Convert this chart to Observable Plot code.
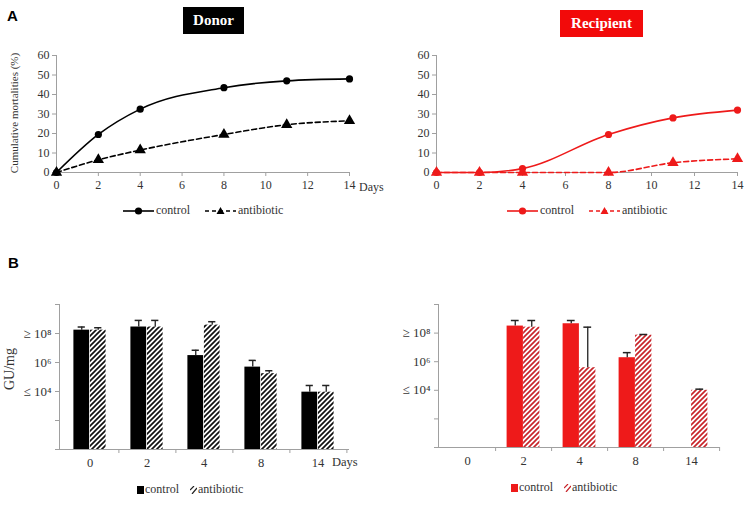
<!DOCTYPE html>
<html lang="en">
<head>
<meta charset="UTF-8">
<title>Donor / Recipient</title>
<script src="https://cdn.jsdelivr.net/npm/d3@7"></script>
<script src="https://cdn.jsdelivr.net/npm/@observablehq/plot@0.6"></script>
<style>
  body { margin: 0; background: #fff; }
  #fig { position: relative; width: 751px; height: 507px; overflow: hidden; font-family: "Liberation Serif", "Times New Roman", "DejaVu Serif", serif; color: #333; }
  #fig svg text { font-family: "Liberation Serif", "Times New Roman", "DejaVu Serif", serif; }
  .abs { position: absolute; }
  .panel { font-family: "Liberation Sans", Arial, sans-serif; font-weight: bold; font-size: 15px; color: #000; }
  .tag { font-weight: bold; font-size: 15px; color: #fff; text-align: center; line-height: 27px; height: 27px; }
  .ylab { transform-origin: center; transform: translate(-50%, -50%) rotate(-90deg); white-space: nowrap; }
  .leg { display: flex; align-items: center; font-size: 12px; white-space: nowrap; }
  .leg svg { display: block; }
</style>
</head>
<body>
<div id="fig">
  <div class="abs panel" style="left:7px;top:7px">A</div>
  <div class="abs panel" style="left:8px;top:254px">B</div>
  <div class="abs tag" style="left:183px;top:7px;width:61px;background:#000">Donor</div>
  <div class="abs tag" style="left:560px;top:10px;width:83px;background:#f20a0a">Recipient</div>
  <div class="abs ylab" style="left:14px;top:113px;font-size:11px">Cumulative mortalities (%)</div>
  <div class="abs ylab" style="left:10px;top:369px;font-size:14px">GU/mg</div>
  <div class="abs" style="left:359px;top:180px;font-size:12px">Days</div>
  <div class="abs" style="left:332px;top:455px;font-size:12.5px">Days</div>
  <div id="g1" class="abs" style="left:0;top:40px"></div>
  <div id="g2" class="abs" style="left:375px;top:40px"></div>
  <div id="g3" class="abs" style="left:0;top:291px"></div>
  <div id="g4" class="abs" style="left:375px;top:291px"></div>
  <div id="leg1" class="abs leg" style="left:123px;top:203px"></div>
  <div id="leg2" class="abs leg" style="left:507px;top:203px"></div>
  <div id="leg3" class="abs leg" style="left:137px;top:482px"></div>
  <div id="leg4" class="abs leg" style="left:511px;top:480px"></div>
</div>
<script>
// --- A: cumulative mortalities (%)
const days = [0, 2, 4, 8, 11, 14];
const donorControl = [0, 19.5, 32.5, 43.5, 47, 48];
const donorAntibiotic = [0, 6.5, 11.5, 19.5, 24.5, 26.5];
const recipControl = [0, 0, 2, 19.5, 28, 32];
const recipAntibiotic = [0, 0, 0, 0, 5, 7];
const dayTicks = [0, 2, 4, 6, 8, 10, 12, 14];
const pctTicks = [0, 10, 20, 30, 40, 50, 60];

// --- B: viral load (GU/mg), null = no bar
const sampleDays = ["0", "2", "4", "8", "14"];
const dControl = [1.7e8, 2.8e8, 3e6, 4.8e5, 9e3];
const dControlErr = [2.8e8, 8e8, 7e6, 1.4e6, 2.6e4];
const dAntibiotic = [1.7e8, 2.8e8, 3.8e8, 1.7e5, 9e3];
const dAntibioticErr = [2.5e8, 8e8, 6.5e8, 2.7e5, 2.6e4];
const rControl = [null, 3.1e8, 4.5e8, 1.9e6, null];
const rControlErr = [null, 7.6e8, 7.6e8, 4.3e6, null];
const rAntibiotic = [null, 2.6e8, 3.8e5, 7.2e7, 1e4];
const rAntibioticErr = [null, 7.6e8, 2.6e8, 8e7, 1.2e4];
const guTicks = [1, 1e2, 1e4, 1e6, 1e8, 1e10];
const guTickLabels = ["", "", "\u2264 10\u2074", "10\u2076", "\u2265 10\u2078", ""];

const RED = "#ee1a1a";
const AXIS = "#a0a0a0";
const SERIF = "'Liberation Serif', 'Times New Roman', 'DejaVu Serif', serif";

function mortality(ctrl, abx, color, m) {
  const c = days.map((d, i) => ({day: d, v: ctrl[i]}));
  const a = days.map((d, i) => ({day: d, v: abx[i]}));
  return Plot.plot({
    width: m.width, height: 160,
    marginLeft: m.left, marginRight: m.right, marginTop: 15, marginBottom: 28,
    style: {fontFamily: SERIF, fontSize: "12px", color: "#333", background: "transparent"},
    x: {domain: [0, 14]},
    y: {domain: [0, 60]},
    marks: [
      Plot.axisX({ticks: dayTicks, tickSize: 4, tickPadding: 4, stroke: AXIS, fill: "#333", label: null}),
      Plot.axisY({ticks: pctTicks, tickSize: 4, tickPadding: 3, stroke: AXIS, fill: "#333", label: null}),
      Plot.ruleX([0], {stroke: AXIS}),
      Plot.ruleY([0], {stroke: AXIS}),
      Plot.line(c, {x: "day", y: "v", stroke: color, strokeWidth: 1.6, curve: "monotone-x"}),
      Plot.line(a, {x: "day", y: "v", stroke: color, strokeWidth: 1.6, strokeDasharray: "5,3", curve: "monotone-x"}),
      Plot.dot(c, {x: "day", y: "v", fill: color, r: 3.6, symbol: "circle"}),
      Plot.dot(a, {x: "day", y: "v", fill: color, r: 4.2, symbol: "triangle"})
    ]
  });
}

function viral(ctrl, ctrlErr, abx, abxErr, color, hatchId, m) {
  const rows = (vals, errs) => sampleDays
    .map((d, i) => ({day: d, v: vals[i], e: errs[i]}))
    .filter(r => r.v != null);
  const c = rows(ctrl, ctrlErr);
  const a = rows(abx, abxErr);
  const step = (m.width - m.left - m.right) / sampleDays.length;
  const bw = 16.5;
  const cap = 4;
  const svg = Plot.plot({
    width: m.width, height: 185,
    marginLeft: m.left, marginRight: m.right, marginTop: 13, marginBottom: m.bottom,
    style: {fontFamily: SERIF, fontSize: "12.5px", color: "#333", background: "transparent"},
    x: {type: "band", domain: sampleDays, padding: 0},
    y: {type: "log", domain: [1, 1e10]},
    marks: [
      Plot.barY(c, {x: "day", y1: 1, y2: "v", fill: color, insetLeft: step / 2 - bw, insetRight: step / 2}),
      Plot.barY(a, {x: "day", y1: 1, y2: "v", fill: `url(#${hatchId})`, insetLeft: step / 2, insetRight: step / 2 - bw}),
      Plot.ruleX(c, {x: "day", y1: "v", y2: "e", dx: -bw / 2, stroke: "#222", strokeWidth: 1.3}),
      Plot.tickY(c, {x: "day", y: "e", dx: -bw / 2, insetLeft: step / 2 - cap, insetRight: step / 2 - cap, stroke: "#222", strokeWidth: 1.5}),
      Plot.ruleX(a, {x: "day", y1: "v", y2: "e", dx: bw / 2, stroke: "#222", strokeWidth: 1.3}),
      Plot.tickY(a, {x: "day", y: "e", dx: bw / 2, insetLeft: step / 2 - cap, insetRight: step / 2 - cap, stroke: "#222", strokeWidth: 1.5}),
      Plot.frame({anchor: "left", stroke: AXIS}),
      Plot.frame({anchor: "bottom", stroke: AXIS}),
      Plot.axisY({ticks: guTicks, tickFormat: d => guTickLabels[guTicks.indexOf(d)], tickSize: 4, tickPadding: 4, stroke: AXIS, fill: "#333", fontSize: 13, label: null}),
      Plot.axisX({tickSize: 0, tickPadding: 9, fill: "#333", label: null}),
      Plot.axisX({tickSize: 4, dx: step / 2, tickFormat: () => "", stroke: AXIS, label: null})
    ]
  });
  // diagonal hatching for the antibiotic bars
  const p = d3.select(svg).insert("defs", ":first-child")
    .append("pattern").attr("id", hatchId)
    .attr("patternUnits", "userSpaceOnUse").attr("width", 5).attr("height", 5);
  p.append("rect").attr("width", 5).attr("height", 5).attr("fill", "#fff");
  p.append("path").attr("d", "M-1,1 l2,-2 M0,5 l5,-5 M4,6 l2,-2")
    .attr("stroke", m.hatch).attr("stroke-width", 1.7);
  return svg;
}

document.querySelector("#g1").append(mortality(donorControl, donorAntibiotic, "#000", {width: 375, left: 56, right: 26}));
document.querySelector("#g2").append(mortality(recipControl, recipAntibiotic, RED, {width: 376, left: 61, right: 14}));
document.querySelector("#g3").append(viral(dControl, dControlErr, dAntibiotic, dAntibioticErr, "#000", "hatchK",
  {width: 375, left: 59, right: 27, bottom: 27, hatch: "#111"}));
document.querySelector("#g4").append(viral(rControl, rControlErr, rAntibiotic, rAntibioticErr, RED, "hatchR",
  {width: 376, left: 63, right: 32, bottom: 29, hatch: "#c8242a"}));

// legends
function lineLegend(el, color) {
  el.innerHTML =
    `<svg width="31" height="10"><line x1="0" y1="5" x2="31" y2="5" stroke="${color}" stroke-width="1.6"/><circle cx="15.5" cy="5" r="3.6" fill="${color}"/></svg>` +
    `<span style="margin:0 15px 0 2px">control</span>` +
    `<svg width="31" height="10"><line x1="0" y1="5" x2="31" y2="5" stroke="${color}" stroke-width="1.6" stroke-dasharray="4,3"/><path d="M15.5,1 L19.5,8 L11.5,8 Z" fill="${color}"/></svg>` +
    `<span style="margin-left:2px">antibiotic</span>`;
  el.style.fontSize = "12px";
}
function barLegend(el, color, hatch) {
  el.innerHTML =
    `<svg width="7" height="8"><rect width="7" height="8" fill="${color}"/></svg>` +
    `<span style="margin:0 11px 0 1px">control</span>` +
    `<svg width="7" height="8"><path d="M0,4 l4,-4 M2,8 l5,-6" stroke="${hatch}" stroke-width="1.2"/></svg>` +
    `<span style="margin-left:1px">antibiotic</span>`;
}
lineLegend(document.querySelector("#leg1"), "#000");
lineLegend(document.querySelector("#leg2"), RED);
barLegend(document.querySelector("#leg3"), "#000", "#222");
barLegend(document.querySelector("#leg4"), RED, "#c8242a");
</script>
</body>
</html>
